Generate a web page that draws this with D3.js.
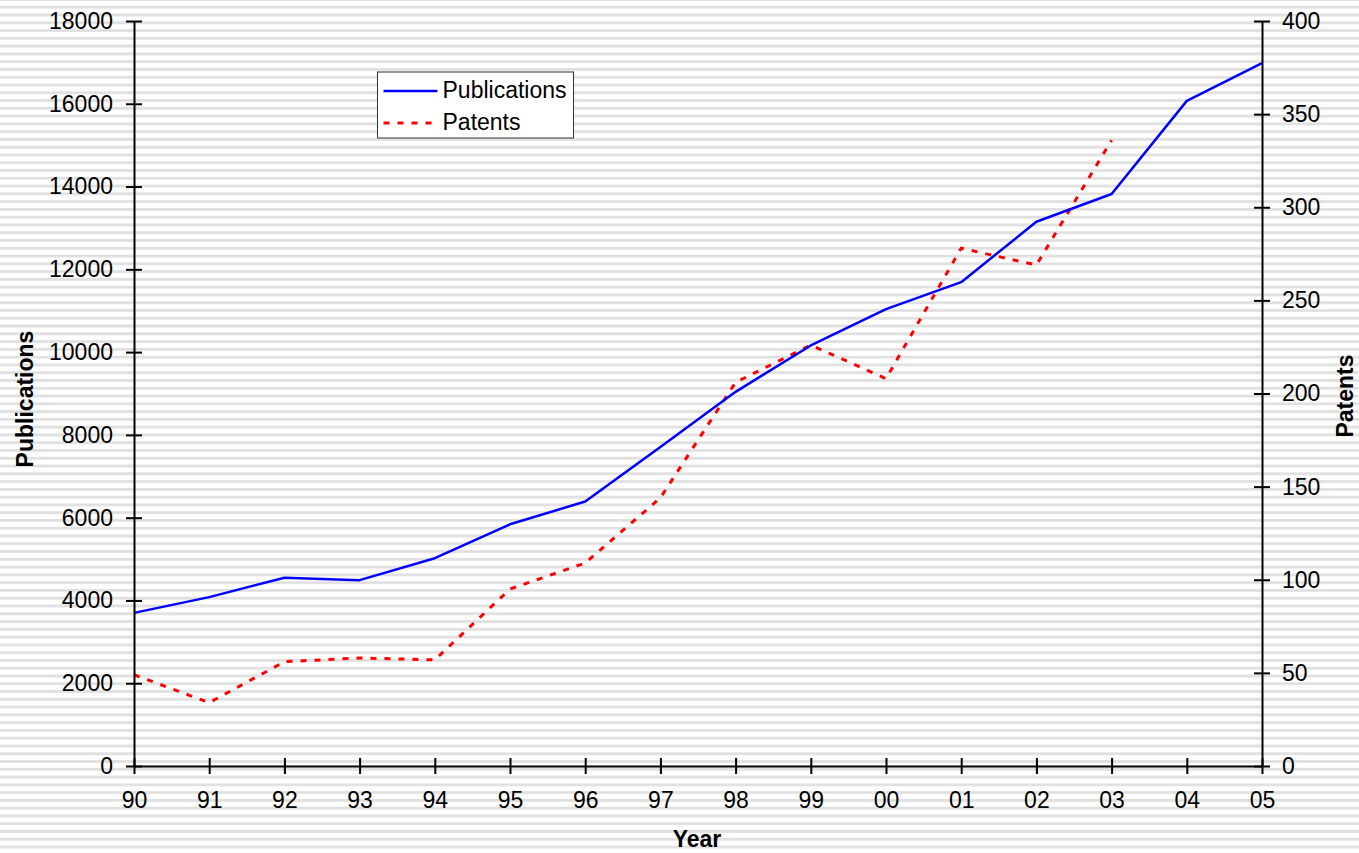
<!DOCTYPE html>
<html>
<head>
<meta charset="utf-8">
<script src="https://cdn.jsdelivr.net/npm/d3@7/dist/d3.min.js"></script>
<style>
  html, body { margin: 0; padding: 0; background: #fff; }
  svg { display: block; }
  text { font-family: "Liberation Sans", Arial, sans-serif; fill: #000; }
</style>
</head>
<body>
<svg id="chart" width="1359" height="853"></svg>
<script>
// Year labels along the x axis
const years = ["90", "91", "92", "93", "94", "95", "96", "97", "98", "99", "00", "01", "02", "03", "04", "05"];
// Yearly publication counts (left axis)
const publications = [3700, 4080, 4550, 4490, 5020, 5840, 6390, 7710, 9040, 10160, 11040, 11690, 13150, 13820, 16070, 16980];
// Yearly patent counts (right axis), available through 03
const patents = [49, 34, 56, 58, 57, 95, 109, 144, 206, 226, 208, 278, 269, 336];
// Axis tick values
const pubTicks = [0, 2000, 4000, 6000, 8000, 10000, 12000, 14000, 16000, 18000];
const patTicks = [0, 50, 100, 150, 200, 250, 300, 350, 400];

const svg = d3.select("#chart");
const W = 1359, H = 853;
const plotLeft = 134, plotRight = 1262, plotTop = 21, plotBottom = 766;
const fontSize = 23;

// Striped backdrop
const defs = svg.append("defs");
const pat = defs.append("pattern")
  .attr("id", "stripes")
  .attr("patternUnits", "userSpaceOnUse")
  .attr("x", 0).attr("y", 5.8)
  .attr("width", 10).attr("height", 7.776);
pat.append("rect").attr("width", 10).attr("height", 7.776).attr("fill", "#ffffff");
pat.append("rect").attr("y", 0).attr("width", 10).attr("height", 2.8).attr("fill", "#e0e0e0");
svg.append("rect").attr("width", W).attr("height", H).attr("fill", "url(#stripes)");

// Scales
const x = d3.scalePoint().domain(years).range([plotLeft, plotRight]);
const yPub = d3.scaleLinear().domain([0, 18000]).range([plotBottom, plotTop]);
const yPat = d3.scaleLinear().domain([0, 400]).range([plotBottom, plotTop]);

// Series lines
const pubLine = d3.line().x((d, i) => x(years[i])).y(d => yPub(d));
const patLine = d3.line().x((d, i) => x(years[i])).y(d => yPat(d));

svg.append("path")
  .datum(patents)
  .attr("d", patLine)
  .attr("fill", "none")
  .attr("stroke", "#ff0000")
  .attr("stroke-width", 3)
  .attr("stroke-dasharray", "6,8");

svg.append("path")
  .datum(publications)
  .attr("d", pubLine)
  .attr("fill", "none")
  .attr("stroke", "#0000ff")
  .attr("stroke-width", 2.5)
  .attr("stroke-linejoin", "round");

// Axes: ticks cross the axis line on both sides
function styleAxis(g) {
  g.attr("font-size", null).attr("font-family", null);
  g.select(".domain").attr("stroke", "#000").attr("stroke-width", 2);
  g.selectAll(".tick line").attr("stroke", "#000").attr("stroke-width", 2);
  g.selectAll(".tick text")
    .style("font-size", fontSize + "px")
    .attr("fill", "#000");
}

const gLeft = svg.append("g")
  .attr("transform", `translate(${plotLeft},0)`)
  .call(d3.axisLeft(yPub).tickValues(pubTicks).tickFormat(d3.format("d")).tickSizeOuter(0).tickSizeInner(8).tickPadding(13));
styleAxis(gLeft);
gLeft.selectAll(".tick line").attr("x1", 8).attr("x2", -8);

const gRight = svg.append("g")
  .attr("transform", `translate(${plotRight},0)`)
  .call(d3.axisRight(yPat).tickValues(patTicks).tickFormat(d3.format("d")).tickSizeOuter(0).tickSizeInner(8).tickPadding(12));
styleAxis(gRight);
gRight.selectAll(".tick line").attr("x1", -8).attr("x2", 8);

const gBottom = svg.append("g")
  .attr("transform", `translate(0,${plotBottom})`)
  .call(d3.axisBottom(x).tickSizeOuter(0).tickSizeInner(8));
styleAxis(gBottom);
gBottom.selectAll(".tick line").attr("y1", -8).attr("y2", 8);
gBottom.selectAll(".tick text").attr("y", 42).attr("dy", null);

// Axis titles
svg.append("text")
  .attr("transform", "translate(33,399) rotate(-90)")
  .attr("text-anchor", "middle")
  .style("font-size", fontSize + "px")
  .style("font-weight", "bold")
  .text("Publications");

svg.append("text")
  .attr("transform", "translate(1353,396) rotate(-90)")
  .attr("text-anchor", "middle")
  .style("font-size", fontSize + "px")
  .style("font-weight", "bold")
  .text("Patents");

svg.append("text")
  .attr("x", 697).attr("y", 847)
  .attr("text-anchor", "middle")
  .style("font-size", fontSize + "px")
  .style("font-weight", "bold")
  .text("Year");

// Legend
const legend = svg.append("g").attr("transform", "translate(377.5,72)");
legend.append("rect")
  .attr("width", 196).attr("height", 66)
  .attr("fill", "#fff").attr("stroke", "#333").attr("stroke-width", 1);
const items = [
  { name: "Publications", color: "#0000ff", dash: null, width: 2.5, y: 19 },
  { name: "Patents", color: "#ff0000", dash: "6,8", width: 3, y: 51 }
];
items.forEach(it => {
  legend.append("line")
    .attr("x1", 6).attr("x2", 60).attr("y1", it.y).attr("y2", it.y)
    .attr("stroke", it.color).attr("stroke-width", it.width)
    .attr("stroke-dasharray", it.dash);
  legend.append("text")
    .attr("x", 65).attr("y", it.y + 7)
    .style("font-size", fontSize + "px")
    .text(it.name);
});
</script>
</body>
</html>
